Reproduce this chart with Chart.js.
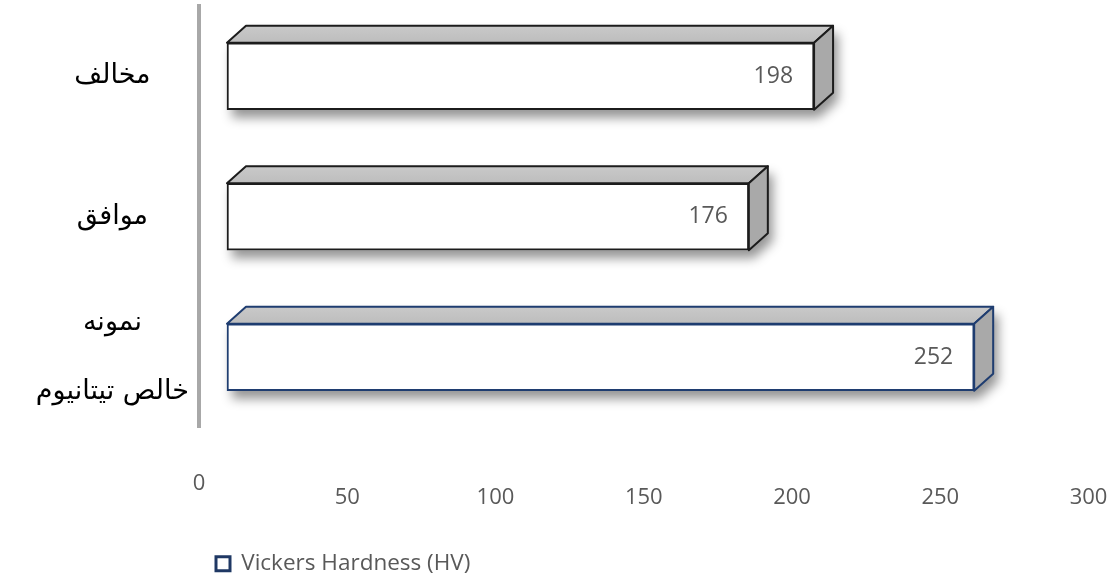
<!DOCTYPE html>
<html>
<head>
<meta charset="utf-8">
<script src="https://cdn.jsdelivr.net/npm/chart.js@4.4.1/dist/chart.umd.min.js"></script>
<style>
  html, body { margin: 0; padding: 0; background: #ffffff; }
  #wrap { width: 1119px; height: 579px; position: relative; }
</style>
</head>
<body>
<div id="wrap"><canvas id="c"></canvas></div>
<script>
// Vickers hardness per sample
const categories = ['مخالف', 'موافق', ['نمونه', 'خالص تیتانیوم']];
const hardness = [198, 176, 252];
const seriesName = 'Vickers Hardness (HV)';
const xTickValues = [0, 50, 100, 150, 200, 250, 300];

// drawing style
const edgeColors = ['#1c1c1c', '#1c1c1c', '#1f3d70'];
const DEPTH_X = 19;     // 3D extrusion, horizontal
const DEPTH_Y = 17;     // 3D extrusion, vertical
const LABEL_SHIFT = -28; // axis labels sit on the back wall, left of the front faces
const TEXT_GREY = '#595959';
const NUM_FONT = "'Open Sans', 'Liberation Sans', sans-serif";

// extruded faces, drop shadow and value labels for the bars
const bar3d = {
  id: 'bar3d',
  beforeDatasetsDraw(chart) {
    const ctx = chart.ctx;
    chart.getDatasetMeta(0).data.forEach((bar) => {
      const { x, y, base, height } = bar.getProps(['x', 'y', 'base', 'height'], true);
      const top = y - height / 2, bottom = y + height / 2;
      ctx.save();
      ctx.shadowColor = 'rgba(0,0,0,0.42)';
      ctx.shadowBlur = 11;
      ctx.shadowOffsetX = 5;
      ctx.shadowOffsetY = 8;
      ctx.fillStyle = '#ffffff';
      ctx.beginPath();
      ctx.moveTo(base, top);
      ctx.lineTo(base + DEPTH_X, top - DEPTH_Y);
      ctx.lineTo(x + DEPTH_X, top - DEPTH_Y);
      ctx.lineTo(x + DEPTH_X, bottom - DEPTH_Y);
      ctx.lineTo(x, bottom);
      ctx.lineTo(base, bottom);
      ctx.closePath();
      ctx.fill();
      ctx.restore();
    });
  },
  afterDatasetsDraw(chart) {
    const ctx = chart.ctx;
    const ds = chart.data.datasets[0];
    chart.getDatasetMeta(0).data.forEach((bar, i) => {
      const { x, y, base, height } = bar.getProps(['x', 'y', 'base', 'height'], true);
      const top = y - height / 2, bottom = y + height / 2;
      const edge = edgeColors[i];
      ctx.save();
      ctx.lineWidth = 2;
      ctx.lineJoin = 'round';
      ctx.strokeStyle = edge;

      // top face
      const g = ctx.createLinearGradient(0, top - DEPTH_Y, 0, top);
      g.addColorStop(0, '#c9c9c9');
      g.addColorStop(1, '#bdbdbd');
      ctx.fillStyle = g;
      ctx.beginPath();
      ctx.moveTo(base, top);
      ctx.lineTo(base + DEPTH_X, top - DEPTH_Y);
      ctx.lineTo(x + DEPTH_X, top - DEPTH_Y);
      ctx.lineTo(x, top);
      ctx.closePath();
      ctx.fill();
      ctx.stroke();

      // side face
      ctx.fillStyle = '#a9a9a9';
      ctx.beginPath();
      ctx.moveTo(x, top);
      ctx.lineTo(x + DEPTH_X, top - DEPTH_Y);
      ctx.lineTo(x + DEPTH_X, bottom - DEPTH_Y);
      ctx.lineTo(x, bottom);
      ctx.closePath();
      ctx.fill();
      ctx.stroke();

      // value label
      ctx.fillStyle = TEXT_GREY;
      ctx.font = '23px ' + NUM_FONT;
      ctx.textAlign = 'right';
      ctx.textBaseline = 'middle';
      ctx.fillText(String(ds.data[i]), x - 21, y);
      ctx.restore();
    });
  },
  afterDraw(chart) {
    // the zero label sits a little higher than the others
    const xs = chart.scales.x;
    const ctx = chart.ctx;
    ctx.save();
    ctx.fillStyle = TEXT_GREY;
    ctx.font = '22px ' + NUM_FONT;
    ctx.textAlign = 'center';
    ctx.textBaseline = 'middle';
    ctx.fillText('0', xs.getPixelForValue(0) + LABEL_SHIFT, chart.chartArea.bottom + 56);
    ctx.restore();
  }
};

new Chart(document.getElementById('c'), {
  type: 'bar',
  data: {
    labels: categories,
    datasets: [{
      label: seriesName,
      data: hardness,
      backgroundColor: '#ffffff',
      borderColor: edgeColors,
      borderWidth: 2,
      borderSkipped: false,
      barThickness: 67
    }]
  },
  options: {
    indexAxis: 'y',
    responsive: true,
    maintainAspectRatio: false,
    animation: false,
    events: [],
    layout: { padding: { top: 6, right: 2.5, left: 0, bottom: -6 } },
    scales: {
      x: {
        type: 'linear',
        min: -9.44,
        max: 300,
        afterBuildTicks(s) { s.ticks = xTickValues.map(v => ({ value: v })); },
        afterFit(s) { s.paddingLeft = 0; s.paddingRight = 0; s.height = 108; },
        grid: { display: false, drawTicks: false },
        border: { display: false },
        ticks: {
          autoSkip: false,
          maxRotation: 0,
          padding: 57,
          labelOffset: LABEL_SHIFT,
          color: TEXT_GREY,
          font: { family: NUM_FONT, size: 22 },
          callback: (v) => (v === 0 ? '' : String(v))
        }
      },
      y: {
        afterFit(s) { s.width = 199; s.paddingTop = 0; s.paddingBottom = 0; },
        grid: { display: false, drawTicks: false },
        border: { display: true, color: '#a8a8a8', width: 4 },
        ticks: {
          autoSkip: false,
          crossAlign: 'center',
          padding: 10,
          color: '#000000',
          font: { family: "'DejaVu Sans', sans-serif", size: 27, lineHeight: 2.55 }
        }
      }
    },
    plugins: {
      tooltip: { enabled: false },
      legend: {
        position: 'bottom',
        align: 'start',
        fullSize: false,
        labels: {
          boxWidth: 14,
          boxHeight: 14,
          padding: 17,
          color: TEXT_GREY,
          font: { family: NUM_FONT, size: 22.5 },
          generateLabels(chart) {
            return [{
              text: seriesName,
              fillStyle: '#ffffff',
              strokeStyle: '#1f3864',
              fontColor: TEXT_GREY,
              lineWidth: 3,
              hidden: false,
              datasetIndex: 0
            }];
          }
        }
      }
    }
  },
  plugins: [bar3d]
});
</script>
</body>
</html>
